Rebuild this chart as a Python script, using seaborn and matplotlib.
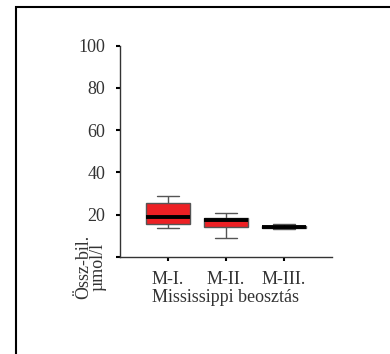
import matplotlib
matplotlib.use("Agg")
import matplotlib.pyplot as plt
import seaborn as sns
import pandas as pd
from matplotlib.patches import Rectangle

categories = ["M-I.", "M-II.", "M-III."]
m1_values = [13.6, 15.5, 18.8, 25.7, 28.9]
m2_values = [8.8, 14.2, 17.5, 18.6, 20.7]
m3_values = [13.4, 13.6, 14.1, 14.7, 15.5]
y_ticks = [0, 20, 40, 60, 80, 100]
y_tick_labels = ["", "20", "40", "60", "80", "100"]

df = pd.DataFrame({
    "group": [categories[0]] * len(m1_values) + [categories[1]] * len(m2_values) + [categories[2]] * len(m3_values),
    "value": m1_values + m2_values + m3_values,
})

sns.set_style("white")
plt.rcParams["font.family"] = ["Liberation Serif", "DejaVu Serif"]

fig = plt.figure(figsize=(3.9, 3.54), dpi=100)
ax = fig.add_axes([120 / 390, 1 - 257 / 354, 212 / 390, (257 - 45.7) / 354])

sns.boxplot(data=df, x="group", y="value", order=categories, ax=ax,
            color="#ED2024", saturation=1, width=0.76, linecolor="#555555",
            linewidth=1.0, showfliers=False, whis=(0, 100),
            medianprops=dict(color="black", linewidth=2.8))

ax.set_ylim(0, 100)
ax.set_xlim(-0.83, 2.83)
ax.set_yticks(y_ticks)
ax.set_yticklabels(y_tick_labels)
for s in ["top", "right"]:
    ax.spines[s].set_visible(False)
for s in ["left", "bottom"]:
    ax.spines[s].set_color("#333333")
    ax.spines[s].set_linewidth(1.0)
ax.tick_params(axis="both", direction="out", length=3, width=1.5, color="black",
               labelsize=13, labelcolor="#333333", left=True, bottom=True)
ax.tick_params(axis="y", pad=7.5)
ax.tick_params(axis="x", pad=7)
ax.set_xlabel("Mississippi beosztás", fontsize=13, color="#333333", labelpad=1)
ax.set_ylabel("Össz-bil.\nµmol/l", fontsize=13, color="#333333", linespacing=0.85)
ax.yaxis.set_label_coords(-0.137, -0.047)
ax.yaxis.label.set_va("center")

fig.patches.append(Rectangle((16 / 390, -0.05), 1.2, 1 - 7 / 354 + 0.05,
                             transform=fig.transFigure, fill=False,
                             edgecolor="black", linewidth=1.5))

fig.savefig("out.png", dpi=100)
